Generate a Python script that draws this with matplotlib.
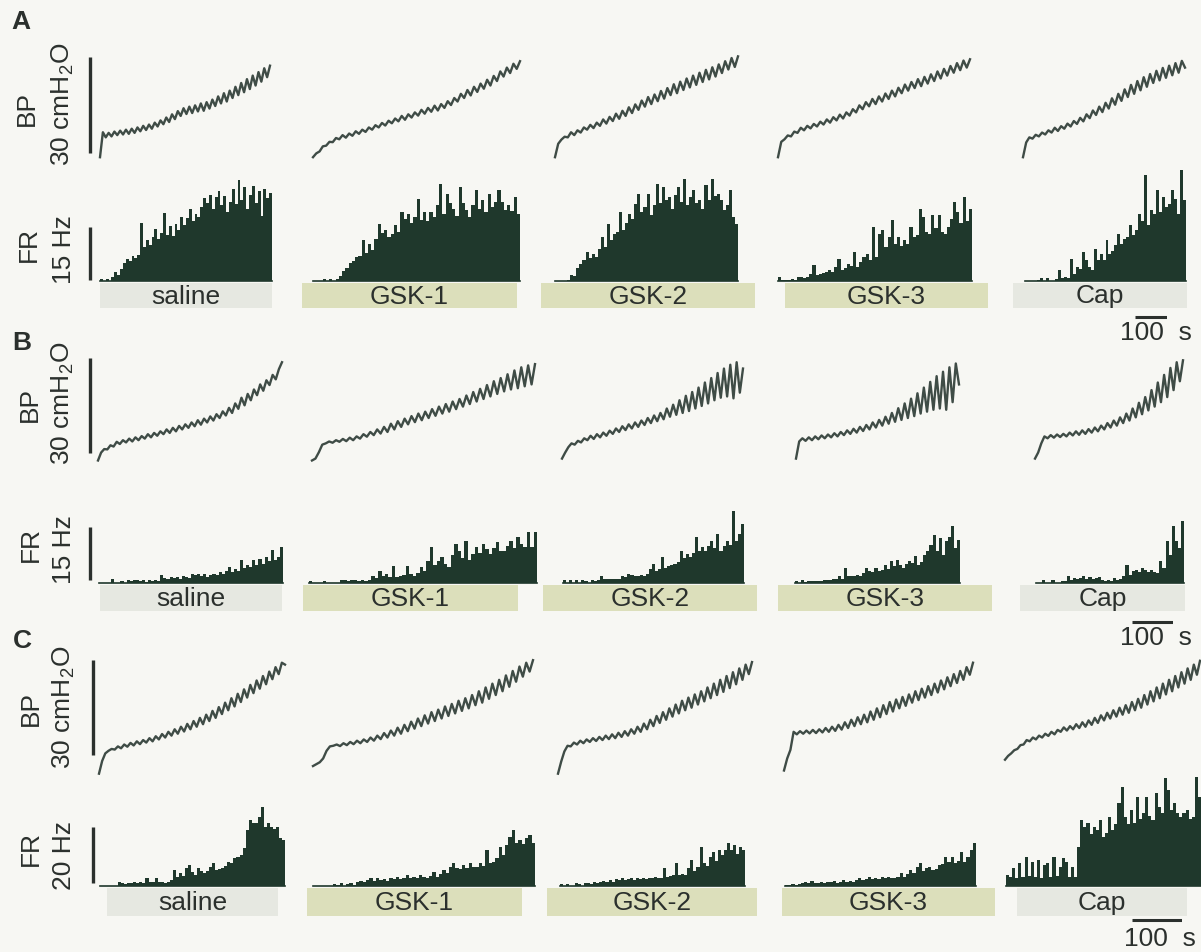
import numpy as np
import matplotlib.pyplot as plt
from matplotlib.patches import Rectangle

plt.rcParams['font.family'] = ['Liberation Sans', 'DejaVu Sans']
plt.rcParams['mathtext.fontset'] = 'custom'
plt.rcParams['mathtext.rm'] = 'Liberation Sans'

# ---- data -------------------------------------------------------------
conditions = ['saline', 'GSK-1', 'GSK-2', 'GSK-3', 'Cap']
panels = ['A', 'B', 'C']
bp_scale = 30            # cmH2O
fr_scale = [15, 15, 20]  # Hz
time_scale = 100         # s

# bladder pressure traces, cmH2O (trough / peak samples)
bp_A_saline = [4.0, 11.8, 10.2, 11.6, 10.5, 12.0, 10.9, 12.3, 11.1, 12.6, 11.3, 12.9, 11.6, 13.3, 12.1, 13.8,
               12.5, 14.2, 12.9, 14.8, 13.6, 15.5, 14.3, 16.4, 15.0, 17.4, 15.9, 18.4, 16.9, 19.3, 17.5, 19.8,
               17.8, 20.2, 18.3, 20.8, 18.5, 21.2, 19.2, 22.0, 20.0, 23.0, 20.8, 24.0, 21.4, 24.8, 22.5, 26.0,
               23.4, 27.2, 24.3, 28.4, 25.3, 29.5, 26.4, 30.6, 27.6, 31.8, 29.0, 32.6]
bp_A_gsk1 = [4.0, 5.2, 5.8, 7.4, 7.6, 8.8, 8.7, 10.0, 9.6, 10.9, 10.1, 11.4, 10.7, 12.1, 11.3, 12.6, 11.9, 13.3,
             12.6, 14.0, 13.3, 14.7, 13.9, 15.4, 14.6, 16.1, 15.2, 16.9, 15.7, 17.4, 16.4, 18.0, 17.0, 18.8,
             17.6, 19.4, 18.2, 20.1, 18.6, 20.6, 19.4, 21.5, 20.3, 22.5, 21.4, 23.8, 22.5, 25.0, 23.3, 26.0,
             24.4, 27.0, 25.4, 28.2, 26.4, 29.4, 27.8, 30.8, 29.2, 32.0, 30.3, 33.2, 31.6, 34.0]
bp_A_gsk2 = [4.0, 8.2, 9.5, 10.4, 10.2, 11.8, 10.9, 12.4, 11.7, 13.3, 12.6, 14.1, 13.1, 14.8, 13.8, 15.8, 14.5,
             16.6, 15.3, 17.6, 16.0, 18.5, 16.9, 19.6, 17.8, 20.5, 18.8, 21.7, 19.8, 22.8, 20.6, 23.6, 21.5,
             24.7, 22.3, 25.6, 23.4, 26.8, 24.0, 27.6, 25.0, 28.6, 25.8, 29.5, 26.6, 30.4, 27.5, 31.3, 28.3,
             32.1, 29.2, 33.0, 30.3, 34.0, 31.4, 35.0, 32.2, 35.5]
bp_A_gsk3 = [4.0, 8.8, 9.6, 10.8, 10.5, 12.0, 11.6, 13.2, 12.4, 13.8, 13.0, 14.4, 13.6, 15.1, 14.2, 15.8, 14.8,
             16.5, 15.5, 17.3, 16.1, 18.0, 17.0, 19.0, 18.0, 20.2, 19.0, 21.2, 19.9, 22.2, 20.6, 23.0, 21.4,
             23.9, 22.2, 24.8, 23.0, 25.7, 24.0, 26.7, 24.8, 27.5, 25.6, 28.4, 26.2, 29.1, 27.0, 29.9, 27.8,
             30.8, 28.6, 31.6, 29.5, 32.5, 30.4, 33.4, 31.2, 34.2, 32.0, 34.6]
bp_A_cap = [4.0, 8.6, 10.2, 9.8, 11.0, 10.5, 11.7, 11.1, 12.4, 11.7, 13.2, 12.2, 13.7, 12.9, 14.5, 13.6, 15.3,
            14.4, 16.3, 15.2, 17.4, 16.2, 18.6, 17.2, 19.8, 18.1, 21.0, 19.2, 22.4, 20.4, 23.8, 21.6, 25.2,
            22.8, 26.6, 23.8, 27.8, 24.9, 29.0, 26.0, 30.0, 27.2, 31.0, 28.0, 31.9, 28.8, 32.6, 29.6, 33.4,
            30.4, 34.1, 32.0]

bp_B_saline = [3.0, 5.5, 6.6, 6.5, 7.8, 7.4, 8.9, 8.2, 9.4, 8.7, 9.9, 9.0, 10.3, 9.4, 10.7, 9.9, 11.3, 10.3,
               11.7, 10.8, 12.2, 11.3, 12.8, 11.7, 13.3, 12.2, 13.9, 12.8, 14.4, 13.3, 15.0, 13.8, 15.7, 14.3,
               16.2, 15.0, 16.9, 15.6, 17.6, 16.4, 18.5, 17.2, 19.6, 18.0, 21.0, 19.3, 22.8, 20.4, 24.0, 22.0,
               25.4, 23.6, 27.0, 25.0, 28.3, 26.8, 30.0, 28.6, 31.8, 34.0]
bp_B_gsk1 = [3.0, 3.6, 5.6, 8.0, 8.4, 9.0, 8.6, 9.4, 8.9, 9.8, 9.1, 10.2, 9.4, 10.6, 9.9, 11.3, 10.5, 12.0,
             11.0, 12.8, 11.5, 13.6, 12.0, 14.6, 12.8, 15.4, 13.6, 16.2, 14.4, 17.0, 15.1, 17.8, 15.7, 18.4,
             16.4, 19.2, 17.1, 20.0, 17.8, 20.8, 18.4, 21.6, 19.2, 22.4, 20.0, 23.5, 20.8, 24.6, 21.6, 25.6,
             22.4, 26.8, 23.2, 28.0, 24.0, 29.0, 24.8, 30.2, 25.4, 31.4, 25.8, 32.4, 26.4, 33.0, 27.0, 33.4]
bp_B_gsk2 = [3.6, 5.5, 7.2, 8.4, 8.0, 9.2, 8.7, 10.0, 9.4, 10.8, 9.8, 11.3, 10.3, 11.8, 10.8, 12.4, 11.4, 13.1,
             12.0, 13.8, 12.6, 14.4, 13.1, 15.0, 13.6, 15.6, 14.2, 16.4, 14.8, 17.2, 15.4, 18.0, 16.0, 19.4,
             16.8, 20.6, 17.4, 22.0, 18.0, 23.4, 18.6, 24.6, 19.4, 26.0, 20.2, 27.6, 21.0, 29.0, 22.0, 30.6,
             22.8, 32.0, 23.2, 33.2, 22.6, 34.0, 24.4, 32.0]
bp_B_gsk3 = [3.6, 9.0, 10.0, 9.2, 10.3, 9.4, 10.6, 9.7, 10.9, 10.0, 11.2, 10.3, 11.6, 10.6, 12.0, 11.0, 12.5,
             11.4, 13.0, 11.8, 13.6, 12.3, 14.2, 12.8, 15.0, 13.4, 15.8, 14.0, 16.8, 14.6, 18.0, 15.2, 19.5,
             15.8, 21.0, 16.4, 22.5, 17.0, 24.2, 17.8, 26.0, 18.4, 27.8, 19.0, 29.6, 19.4, 31.0, 19.0, 32.4,
             21.4, 33.6, 27.0]
bp_B_cap = [3.6, 5.5, 8.4, 10.6, 10.0, 11.0, 10.2, 11.2, 10.4, 11.4, 10.6, 11.8, 10.9, 12.2, 11.1, 12.5, 11.4,
            12.9, 11.8, 13.4, 12.2, 14.0, 12.8, 14.8, 13.4, 15.6, 14.0, 16.6, 14.8, 17.8, 15.6, 19.4, 16.6,
            21.2, 17.6, 23.0, 18.8, 25.2, 20.0, 27.6, 21.4, 30.0, 23.0, 32.2, 25.2, 34.0, 28.0, 34.6]

bp_C_saline = [2.0, 6.0, 8.4, 9.2, 9.8, 9.6, 10.6, 10.0, 11.2, 10.5, 11.7, 10.9, 12.2, 11.3, 12.6, 11.8, 13.2,
               12.2, 13.8, 12.8, 14.5, 13.4, 15.2, 14.0, 16.0, 14.6, 16.8, 15.3, 17.7, 16.0, 18.6, 16.8, 19.6,
               17.6, 20.6, 18.6, 21.8, 19.6, 23.0, 20.8, 24.4, 22.0, 25.8, 23.2, 27.2, 24.6, 28.6, 26.0, 30.0,
               27.4, 31.4, 28.8, 32.8, 30.2, 34.2, 31.8, 35.6, 33.4, 37.0, 36.4]
bp_C_gsk1 = [4.4, 5.0, 5.6, 6.8, 9.2, 10.6, 10.8, 11.2, 10.7, 11.6, 11.0, 12.0, 11.3, 12.4, 11.6, 12.8, 12.0,
             13.4, 12.4, 14.0, 12.9, 14.8, 13.4, 15.6, 14.0, 16.5, 14.6, 17.4, 15.4, 18.4, 16.2, 19.4, 17.0,
             20.4, 17.8, 21.4, 18.6, 22.2, 19.4, 23.2, 20.2, 24.0, 21.0, 25.0, 21.8, 25.8, 22.6, 26.8, 23.6,
             28.0, 24.4, 29.2, 25.6, 30.4, 26.8, 31.6, 28.0, 33.0, 29.4, 34.4, 31.0, 35.8, 32.6, 37.0, 34.2, 37.8]
bp_C_gsk2 = [2.0, 5.8, 9.0, 10.8, 10.6, 11.8, 11.2, 12.4, 11.6, 12.8, 12.0, 13.2, 12.3, 13.6, 12.6, 14.0, 12.9,
             14.4, 13.2, 14.9, 13.6, 15.4, 14.0, 16.0, 14.6, 16.8, 15.2, 17.8, 16.0, 19.0, 17.0, 20.2, 18.0,
             21.4, 19.0, 22.6, 20.0, 23.8, 21.0, 25.0, 22.0, 26.0, 22.8, 27.0, 23.8, 28.0, 24.8, 29.2, 25.8,
             30.4, 26.8, 31.6, 27.8, 32.8, 29.0, 34.0, 30.2, 35.2, 31.6, 36.4, 33.4, 37.2]
bp_C_gsk3 = [3.0, 6.8, 9.5, 15.2, 14.4, 15.4, 14.6, 15.6, 14.7, 15.8, 14.8, 16.0, 15.0, 16.4, 15.2, 16.8, 15.5,
             17.4, 15.9, 18.2, 16.4, 19.0, 17.0, 19.8, 17.6, 20.6, 18.2, 21.6, 19.0, 22.6, 19.8, 23.6, 20.8,
             24.6, 21.6, 25.4, 22.6, 26.2, 23.4, 27.0, 24.4, 28.0, 25.2, 28.8, 26.0, 29.6, 26.8, 30.4, 27.6,
             31.4, 28.6, 32.4, 29.6, 33.4, 30.6, 34.4, 31.6, 35.6, 33.2, 37.0]
bp_C_cap = [6.4, 7.6, 8.4, 9.4, 9.8, 11.0, 11.2, 12.6, 12.2, 13.4, 12.8, 14.0, 13.4, 14.6, 13.9, 15.2, 14.4,
            15.8, 15.2, 16.6, 15.6, 17.0, 16.0, 17.6, 16.4, 18.2, 16.8, 18.8, 17.4, 19.6, 18.0, 20.4, 18.8,
            21.2, 19.4, 22.0, 20.0, 22.8, 20.6, 23.6, 21.2, 24.6, 22.0, 25.6, 22.8, 26.8, 23.8, 28.0, 24.8,
            29.2, 25.8, 30.4, 27.0, 31.6, 28.0, 32.8, 29.2, 34.0, 30.4, 35.2, 31.6, 36.4, 33.2, 37.6]

# afferent firing rate histograms, Hz
fr_A_saline = [0.5, 0, 0.6, 0, 1.2, 2.5, 1.8, 3.5, 5.0, 6.2, 5.8, 7.0, 6.6, 7.4, 16.4, 9.5, 11.6, 10.2, 12.5,
               14.8, 11.8, 13.6, 19.3, 13.0, 15.5, 12.8, 16.2, 14.5, 18.0, 15.8, 17.8, 20.5, 17.0, 19.0, 18.2,
               21.0, 23.5, 22.0, 24.5, 20.5, 23.8, 25.5, 21.5, 24.0, 19.5, 22.5, 26.0, 21.8, 28.6, 23.0, 26.5,
               20.5, 24.5, 27.0, 22.0, 25.5, 18.5, 26.0, 23.5, 24.8]
fr_A_gsk1 = [0, 0, 0, 0.6, 0, 0.6, 0, 0.5, 1.5, 2.8, 3.8, 5.0, 5.8, 6.8, 7.2, 11.6, 8.0, 10.5, 8.8, 11.9, 16.1,
             13.5, 14.4, 12.5, 13.3, 16.0, 14.0, 19.5, 17.5, 19.0, 16.5, 18.2, 23.2, 17.3, 19.5, 17.0, 19.5,
             18.0, 21.5, 27.5, 19.0, 24.6, 22.0, 20.4, 18.5, 26.6, 22.0, 20.1, 18.0, 21.5, 25.8, 20.5, 22.9,
             19.5, 24.6, 21.0, 22.5, 25.8, 22.4, 20.0, 21.5, 19.8, 23.8, 19.0]
fr_A_gsk2 = [0, 0, 0, 0, 0.3, 1.7, 1.5, 3.8, 4.8, 5.9, 8.2, 6.5, 7.6, 6.8, 9.0, 12.5, 9.6, 16.1, 11.5, 13.3,
             14.0, 19.5, 14.4, 16.5, 19.0, 17.5, 21.8, 24.6, 19.5, 21.0, 24.6, 18.7, 21.5, 27.5, 22.0, 26.6,
             23.0, 23.8, 20.5, 24.4, 26.6, 22.5, 28.9, 21.5, 23.8, 25.8, 22.0, 22.9, 20.5, 27.2, 23.0, 28.9,
             24.0, 24.6, 22.9, 20.0, 21.5, 25.8, 18.1, 16.1]
fr_A_gsk3 = [1.1, 0.3, 0.3, 0.3, 0.5, 0.3, 1.0, 1.1, 0.8, 1.2, 2.0, 4.5, 1.8, 2.0, 2.2, 2.5, 3.1, 2.6, 4.0, 6.2,
             3.1, 3.8, 4.8, 4.2, 8.2, 4.0, 5.5, 6.8, 7.6, 6.0, 15.3, 6.8, 13.3, 14.4, 9.5, 12.5, 17.3, 10.5,
             12.5, 9.8, 11.6, 10.5, 15.3, 12.5, 13.0, 20.4, 18.1, 13.8, 13.3, 18.7, 15.0, 18.7, 14.0, 13.3,
             15.3, 17.5, 22.4, 19.5, 16.5, 23.8, 17.0, 20.4]
fr_A_cap = [0, 0, 0, 0, 0.2, 0.8, 0, 0.8, 0, 0, 0.5, 3.1, 0.8, 1.0, 0.8, 6.2, 2.0, 4.0, 3.5, 8.2, 5.9, 4.0, 3.1,
            9.1, 6.0, 7.6, 5.9, 11.6, 7.6, 8.5, 10.2, 13.3, 10.5, 11.9, 12.5, 15.9, 13.0, 14.4, 19.0, 17.0,
            30.0, 15.9, 20.1, 19.0, 25.8, 19.5, 23.8, 21.0, 21.8, 25.8, 23.2, 19.0, 31.4, 23.0]

fr_B_saline = [0, 0, 0, 0, 1.1, 0, 0, 0.5, 0, 0.8, 0.5, 0.8, 0.8, 0.5, 0.8, 0.4, 0.8, 0.6, 0.8, 0.7, 2.3, 1.5,
               1.2, 1.7, 1.4, 1.7, 1.0, 2.0, 1.8, 1.5, 2.5, 2.2, 2.5, 2.0, 2.5, 1.8, 2.3, 2.5, 2.2, 3.1, 2.6,
               3.5, 4.5, 3.2, 4.0, 3.5, 6.5, 4.2, 5.1, 4.5, 6.5, 5.0, 6.8, 5.5, 7.4, 6.2, 9.3, 6.5, 7.4, 10.2]
fr_B_gsk1 = [0.6, 0, 0, 0, 0.5, 0, 0, 0, 0, 0.8, 0.8, 0.6, 0.8, 0.8, 0.6, 0.9, 0.5, 0.8, 2.0, 1.5, 3.4, 2.0,
             2.5, 1.6, 4.8, 1.8, 2.0, 2.2, 4.8, 2.5, 2.0, 2.8, 4.5, 3.5, 6.2, 10.2, 5.0, 6.2, 7.4, 5.5, 4.5,
             8.0, 11.0, 9.1, 7.0, 11.9, 6.5, 8.2, 10.2, 8.5, 11.0, 9.5, 8.2, 10.0, 11.6, 9.0, 9.1, 10.5, 11.9,
             10.0, 13.0, 11.0, 10.2, 14.4, 10.2, 14.4]
fr_B_gsk2 = [0.8, 0, 0.8, 0, 0.8, 0, 0.8, 0.6, 0, 0.8, 0.5, 0.8, 2.0, 1.1, 1.0, 1.1, 1.0, 1.2, 1.1, 2.0, 1.8,
             2.5, 2.2, 2.0, 2.0, 2.2, 2.0, 2.5, 4.0, 5.4, 3.5, 4.0, 7.4, 4.2, 4.8, 5.0, 5.4, 6.0, 9.1, 7.0,
             8.2, 7.4, 8.5, 13.0, 9.0, 10.2, 9.1, 10.5, 11.9, 10.0, 13.9, 9.1, 10.5, 11.9, 10.8, 20.4, 11.9,
             13.9, 16.7]
fr_B_gsk3 = [0.6, 0, 0.8, 0.3, 0.6, 0.6, 0.6, 0.6, 0.6, 0.8, 0.8, 0.8, 1.1, 1.0, 2.0, 1.2, 4.2, 2.0, 2.0, 2.0,
             2.2, 2.0, 2.8, 4.2, 3.4, 3.0, 4.2, 3.4, 3.8, 5.1, 4.0, 6.2, 4.8, 6.5, 5.0, 4.2, 5.5, 6.2, 5.8,
             7.6, 5.1, 6.0, 7.9, 9.1, 10.8, 13.6, 9.1, 12.7, 7.9, 11.9, 13.0, 16.1, 9.9, 12.2]
fr_B_cap = [0, 0, 0.8, 0, 0, 0.8, 0, 0, 0.5, 0.5, 2.0, 0.8, 1.4, 1.0, 1.4, 2.0, 1.2, 1.8, 1.0, 1.4, 1.8, 0.8,
            0.6, 0.8, 0.6, 1.4, 0.8, 1.0, 2.0, 5.1, 2.3, 3.5, 3.7, 3.0, 4.2, 3.7, 3.2, 3.7, 3.0, 2.8, 6.2,
            4.2, 11.9, 7.9, 16.1, 11.9, 9.9, 17.6]

fr_C_saline = [0, 0, 0, 0, 0, 0, 1.4, 1.0, 0.8, 1.1, 0.9, 1.4, 1.1, 1.6, 1.2, 2.9, 1.4, 1.6, 2.9, 1.4, 1.6,
               1.2, 1.6, 2.0, 5.7, 3.2, 4.6, 3.5, 6.4, 7.5, 5.0, 4.0, 6.4, 5.5, 4.6, 5.5, 6.8, 8.2, 5.7, 6.0,
               6.4, 7.0, 8.6, 8.2, 10.0, 10.4, 11.0, 13.6, 20.0, 23.6, 22.5, 22.5, 24.6, 28.2, 21.1, 22.5,
               21.1, 20.5, 21.1, 17.1, 16.4]
fr_C_gsk1 = [0, 0, 0, 0, 0, 0, 0.8, 0.4, 1.1, 0, 0.6, 1.1, 0.5, 1.4, 1.8, 1.4, 2.2, 2.9, 1.8, 2.9, 2.0, 2.5,
             1.8, 2.9, 2.5, 3.2, 2.5, 3.0, 3.9, 2.9, 3.2, 2.8, 3.9, 3.2, 3.0, 3.6, 5.0, 3.2, 4.3, 5.7, 4.6,
             6.8, 8.2, 6.4, 6.0, 7.5, 6.4, 8.2, 6.8, 6.8, 8.2, 7.0, 12.9, 8.2, 8.5, 10.0, 13.9, 11.0, 14.6,
             17.5, 20.0, 15.4, 16.4, 15.0, 17.1, 18.2, 15.4]
fr_C_gsk2 = [0.8, 0, 0.8, 0, 0, 1.0, 0.8, 0, 1.1, 1.1, 0.8, 1.4, 1.1, 1.4, 1.8, 1.4, 2.1, 1.4, 2.5, 2.1, 2.9,
             2.1, 2.5, 2.9, 2.1, 2.9, 2.5, 2.9, 2.5, 2.9, 2.8, 3.2, 2.9, 3.0, 6.4, 3.2, 3.5, 3.9, 8.2, 3.9,
             4.3, 3.9, 6.4, 9.3, 5.5, 6.8, 13.9, 8.2, 7.0, 10.4, 12.1, 9.0, 12.9, 11.0, 12.9, 15.4, 12.9,
             14.6, 11.5, 13.9, 12.9]
fr_C_gsk3 = [0.4, 0.3, 0.8, 0.4, 0.8, 1.0, 1.4, 1.1, 1.8, 1.2, 0.9, 1.4, 1.1, 1.6, 1.4, 1.8, 1.2, 1.6, 2.0,
             1.4, 1.8, 1.6, 2.1, 3.0, 2.1, 2.5, 3.2, 2.5, 2.9, 2.5, 3.2, 2.9, 3.2, 3.0, 2.9, 3.2, 4.6, 3.2,
             4.3, 5.7, 4.6, 6.8, 8.2, 5.5, 6.4, 6.8, 5.7, 6.0, 7.5, 8.0, 10.4, 8.6, 10.4, 8.2, 9.0, 12.1, 8.6,
             10.4, 12.9, 15.4]
fr_C_cap = [4.0, 3.2, 6.4, 3.0, 8.2, 3.2, 10.4, 3.5, 8.6, 3.2, 9.3, 3.0, 7.5, 8.2, 3.2, 10.4, 3.5, 6.8, 10.0,
            8.6, 3.2, 6.8, 3.2, 13.9, 23.6, 21.0, 22.5, 18.5, 21.1, 20.0, 23.6, 17.5, 19.0, 24.6, 20.0, 22.0,
            29.6, 35.4, 24.6, 22.0, 27.1, 22.5, 31.8, 24.0, 26.1, 31.8, 25.0, 23.6, 33.2, 28.2, 26.0, 38.6,
            34.3, 27.1, 29.6, 26.0, 24.6, 26.1, 27.1, 24.0, 24.6, 38.9, 31.8]

bp_data = [[bp_A_saline, bp_A_gsk1, bp_A_gsk2, bp_A_gsk3, bp_A_cap],
           [bp_B_saline, bp_B_gsk1, bp_B_gsk2, bp_B_gsk3, bp_B_cap],
           [bp_C_saline, bp_C_gsk1, bp_C_gsk2, bp_C_gsk3, bp_C_cap]]
fr_data = [[fr_A_saline, fr_A_gsk1, fr_A_gsk2, fr_A_gsk3, fr_A_cap],
           [fr_B_saline, fr_B_gsk1, fr_B_gsk2, fr_B_gsk3, fr_B_cap],
           [fr_C_saline, fr_C_gsk1, fr_C_gsk2, fr_C_gsk3, fr_C_cap]]

# ---- layout (pixels) ------------------------------------------------------
W, H = 1201, 952
letter_xy = [(21, 22), (22, 343), (22, 641)]
bp_band = [(50, 170, 3.2), (350, 470, 3.17), (655, 780, 3.17)]      # top, bottom, px per cmH2O
fr_band = [(170, 281, 3.53), (495, 583, 3.53), (770, 886, 2.8)]     # top, baseline, px per Hz
bp_bar = [(90, 153), (90, 453), (93, 755)]                          # x, bottom
fr_bar = [(90, 280), (90, 580), (93, 883)]
bp_lab = [(27, 108, 63, 104), (30, 404, 63, 403), (31, 709, 64, 707)]
fr_lab = [(29, 245, 64, 250), (31, 545, 64, 550), (31, 848, 64, 855)]
px_100s = [32, 41, 50]
tbar = [(1135, 317, 1156, 333), (1132, 622, 1156, 638), (1132, 920, 1160, 939)]
bp_x = [[(100, 270), (313, 520), (555, 738), (778, 970), (1023, 1185)],
        [(98, 282), (312, 535), (562, 743), (796, 959), (1035, 1183)],
        [(99, 285), (313, 533), (558, 752), (784, 973), (1005, 1200)]]
fr_x = [[(100, 272), (313, 520), (555, 738), (778, 972), (1025, 1186)],
        [(99, 283), (309, 537), (563, 744), (795, 960), (1036, 1184)],
        [(100, 285), (313, 535), (560, 745), (785, 976), (1006, 1201)]]
box_x = [[(100, 272), (302, 517), (541, 755), (785, 988), (1013, 1187)],
         [(100, 282), (303, 518), (543, 757), (778, 992), (1020, 1185)],
         [(107, 278), (307, 522), (547, 757), (782, 995), (1017, 1187)]]
box_y = [(283, 308), (585, 611), (888, 916)]

bg = '#f7f7f3'
ink = '#2b302d'
trace_c = '#3f4c46'
bar_c = '#1f382c'
box_c = {'saline': '#e6e8e1', 'Cap': '#e6e8e1'}
gsk_box = '#dcdfbb'
fs = 19

fig = plt.figure(figsize=(W / 100, H / 100), dpi=100, facecolor=bg)


def add_ax(x0, y0, x1, y1):
    ax = fig.add_axes([x0 / W, 1 - y1 / H, (x1 - x0) / W, (y1 - y0) / H])
    ax.set_axis_off()
    ax.patch.set_alpha(0)
    return ax


def ftext(x, y, s, **kw):
    fig.text(x / W, 1 - y / H, s, color=ink, **kw)


for p, name in enumerate(panels):
    ftext(*letter_xy[p], name, fontsize=19, fontweight='bold', ha='center', va='center')
    top, bot, pxcm = bp_band[p]
    ftop, base, pxhz = fr_band[p]
    sec_per_px = time_scale / px_100s[p]

    for j, cond in enumerate(conditions):
        # bladder pressure
        x0, x1 = bp_x[p][j]
        vals = bp_data[p][j]
        dur = (x1 - x0) * sec_per_px
        ax = add_ax(x0, top, x1, bot)
        ax.plot(np.linspace(0, dur, len(vals)), vals, color=trace_c, lw=1.7, clip_on=False)
        ax.set_xlim(0, dur)
        ax.set_ylim(0, (bot - top) / pxcm)

        # firing rate histogram
        x0, x1 = fr_x[p][j]
        vals = fr_data[p][j]
        dur = (x1 - x0) * sec_per_px
        w = dur / len(vals)
        ax = add_ax(x0, ftop, x1, base)
        ax.bar(np.arange(len(vals)) * w, vals, width=w, align='edge', color=bar_c, linewidth=0)
        ax.plot([0, dur], [0, 0], color=bar_c, lw=1.2, clip_on=False)
        ax.set_xlim(0, dur)
        ax.set_ylim(0, (base - ftop) / pxhz)

        # condition label box
        bx0, bx1 = box_x[p][j]
        by0, by1 = box_y[p]
        fig.add_artist(Rectangle((bx0 / W, 1 - by1 / H), (bx1 - bx0) / W, (by1 - by0) / H,
                                 transform=fig.transFigure, facecolor=box_c.get(cond, gsk_box),
                                 edgecolor='none', zorder=0))
        ftext((bx0 + bx1) / 2, (by0 + by1) / 2 + 1, cond, fontsize=fs, ha='center', va='center')

    # BP scale bar
    bx, bb = bp_bar[p]
    ax = add_ax(bx - 4, top, bx + 4, bot)
    v0 = (bot - bb) / pxcm
    ax.plot([0, 0], [v0, v0 + bp_scale], color=ink, lw=2.4, solid_capstyle='butt')
    ax.set_xlim(-1, 1)
    ax.set_ylim(0, (bot - top) / pxcm)
    lx1, ly1, lx2, ly2 = bp_lab[p]
    ftext(lx1, ly1, 'BP', fontsize=fs, rotation=90, ha='center', va='center')
    ftext(lx2, ly2, '%d cmH$_2$O' % bp_scale, fontsize=fs, rotation=90, ha='center', va='center')

    # FR scale bar
    bx, bb = fr_bar[p]
    ax = add_ax(bx - 4, ftop, bx + 4, base)
    v0 = (base - bb) / pxhz
    ax.plot([0, 0], [v0, v0 + fr_scale[p]], color=ink, lw=2.4, solid_capstyle='butt')
    ax.set_xlim(-1, 1)
    ax.set_ylim(0, (base - ftop) / pxhz)
    lx1, ly1, lx2, ly2 = fr_lab[p]
    ftext(lx1, ly1, 'FR', fontsize=fs, rotation=90, ha='center', va='center')
    ftext(lx2, ly2, '%d Hz' % fr_scale[p], fontsize=fs, rotation=90, ha='center', va='center')

    # time scale bar
    tx, ty, lx, ly = tbar[p]
    ax = add_ax(tx, ty - 4, tx + px_100s[p], ty + 4)
    ax.plot([0, time_scale], [0, 0], color=ink, lw=2.2, solid_capstyle='butt')
    ax.set_xlim(0, time_scale)
    ax.set_ylim(-1, 1)
    ftext(lx, ly, '%d  s' % time_scale, fontsize=fs, ha='center', va='center')

fig.savefig('out.png', dpi=100, facecolor=bg)
